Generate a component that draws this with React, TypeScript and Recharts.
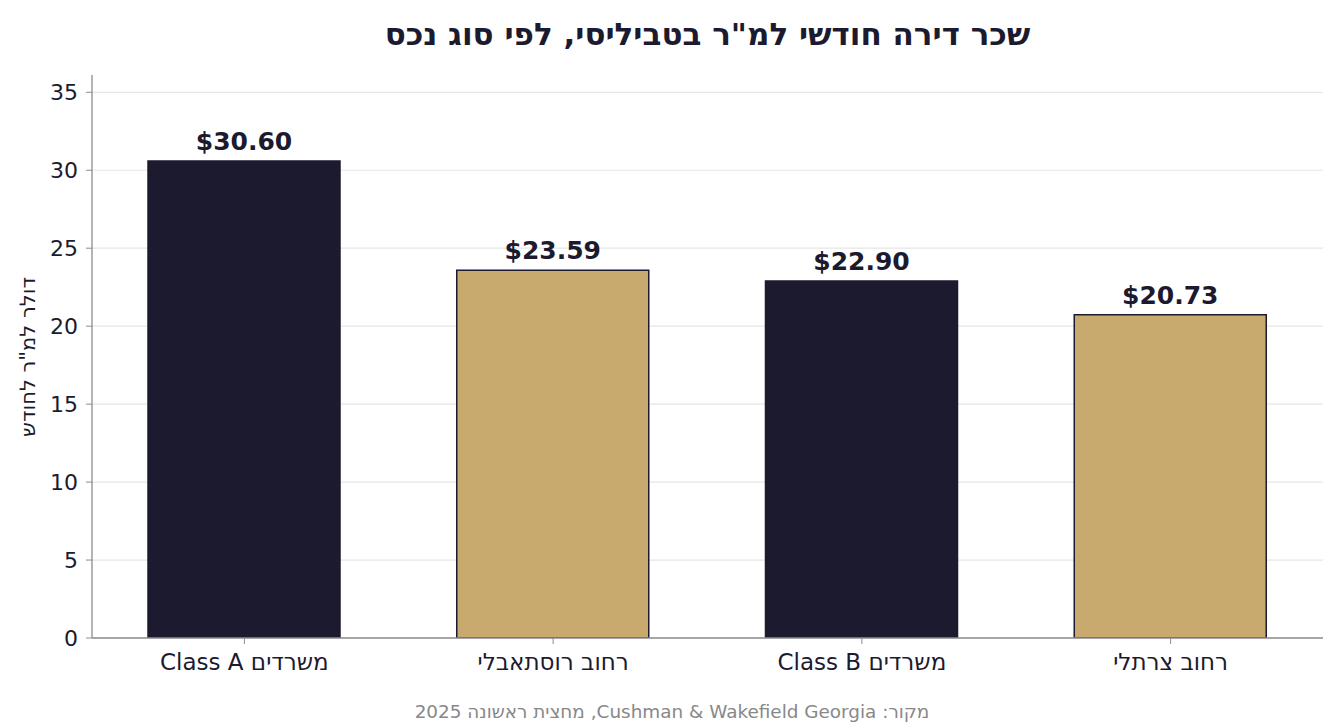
import React from "react";
import { BarChart, Bar, XAxis, YAxis, CartesianGrid, Cell, LabelList } from "recharts";

const categories = ["משרדים Class A", "רחוב רוסתאבלי", "משרדים Class B", "רחוב צרתלי"];
const rents = [30.6, 23.59, 22.9, 20.73];
const barColors = ["#1c1a2e", "#c8a96e", "#1c1a2e", "#c8a96e"];
const yTicks = [0, 5, 10, 15, 20, 25, 30, 35];

const title = 'שכר דירה חודשי למ"ר בטביליסי, לפי סוג נכס';
const yLabel = 'דולר למ"ר לחודש';
const footer = "מקור: Cushman & Wakefield Georgia, מחצית ראשונה 2025";

const data = categories.map((c, i) => ({ name: c, value: rents[i] }));

const FONT = "'DejaVu Sans', sans-serif";
const DARK = "#1c1a2e";
const AXIS = "#8c8c8c";

const XTick = (props: any) => {
  const { x, y, payload } = props;
  return (
    <text x={x} y={y + 24} textAnchor="middle" direction="rtl" fontSize={23} fill={DARK} fontFamily={FONT}>
      {payload.value}
    </text>
  );
};

export default function App() {
  return (
    <div style={{ position: "absolute", left: 0, top: 0, width: 1344, height: 728, background: "#fff", fontFamily: FONT }}>
      <BarChart
        width={1344}
        height={728}
        data={data}
        margin={{ top: 75, right: 21, bottom: 0, left: 0 }}
        barCategoryGap={0}
      >
        <CartesianGrid vertical={false} horizontalValues={yTicks} stroke="#e6e6e6" strokeWidth={1.2} />
        <XAxis
          dataKey="name"
          height={90}
          tick={<XTick />}
          tickLine={{ stroke: AXIS }}
          tickSize={6}
          axisLine={{ stroke: AXIS, strokeWidth: 1.3 }}
          interval={0}
          padding={{ left: -2, right: -2 }}
        />
        <YAxis
          width={92}
          domain={[0, 36.108]}
          ticks={yTicks}
          allowDataOverflow
          tick={{ fontSize: 22, fill: DARK, fontFamily: FONT }}
          tickLine={{ stroke: AXIS }}
          tickSize={6}
          tickMargin={8}
          axisLine={{ stroke: AXIS, strokeWidth: 1.3 }}
        />
        <Bar dataKey="value" barSize={192} stroke={DARK} strokeWidth={1.5} isAnimationActive={false}>
          {data.map((d, i) => (
            <Cell key={d.name} fill={barColors[i]} />
          ))}
          <LabelList
            dataKey="value"
            position="top"
            offset={11}
            formatter={(v: any) => `$${Number(v).toFixed(2)}`}
            style={{ fontSize: 25, fontWeight: "bold", fill: DARK, fontFamily: FONT }}
          />
        </Bar>
      </BarChart>
      <div
        dir="rtl"
        style={{
          position: "absolute", left: 92, width: 1231, top: 14, textAlign: "center",
          fontSize: 31, fontWeight: "bold", color: DARK, lineHeight: "40px",
        }}
      >
        {title}
      </div>
      <div
        dir="rtl"
        style={{
          position: "absolute", left: 28 - 150, top: 357 - 13, width: 300, height: 26, lineHeight: "26px",
          textAlign: "center", fontSize: 21, color: DARK, transform: "rotate(-90deg)",
        }}
      >
        {yLabel}
      </div>
      <div
        dir="rtl"
        style={{
          position: "absolute", left: 0, width: 1344, top: 700, textAlign: "center",
          fontSize: 18.4, color: "#888888", lineHeight: "24px",
        }}
      >
        {footer}
      </div>
    </div>
  );
}
